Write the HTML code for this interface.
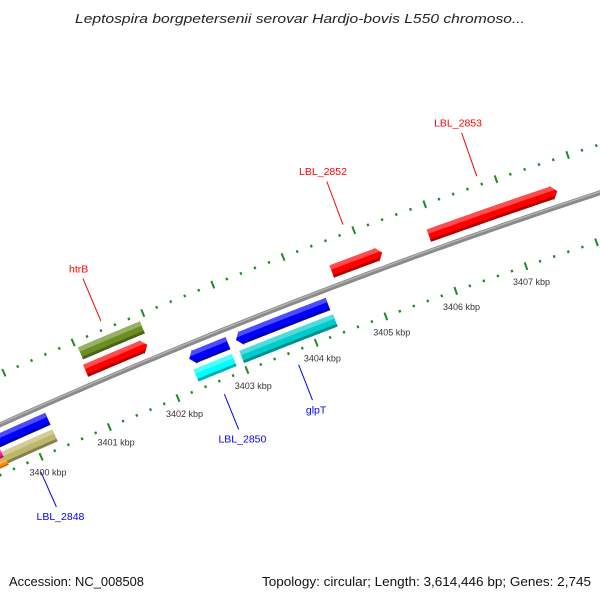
<!DOCTYPE html>
<html><head><meta charset="utf-8"><style>
html,body{margin:0;padding:0;background:#fff;}
svg{display:block;font-family:"Liberation Sans",sans-serif;}
</style></head><body>
<svg id="map" width="600" height="600" viewBox="0 0 600 600">
<defs id="defs"></defs>
<text x="300" y="23" text-anchor="middle" font-size="13" font-style="italic" fill="#222" textLength="450" lengthAdjust="spacingAndGlyphs">Leptospira borgpetersenii serovar Hardjo-bovis L550 chromoso...</text>
<text x="9" y="586" font-size="12.5" fill="#111" textLength="135" lengthAdjust="spacingAndGlyphs">Accession: NC_008508</text>
<text x="591" y="586" text-anchor="end" font-size="12.5" fill="#111" textLength="329" lengthAdjust="spacingAndGlyphs">Topology: circular; Length: 3,614,446 bp; Genes: 2,745</text>
<g id="plot"></g>
</svg>
<script>
// ---- data ----
const tickStart = 3398000;
const tickEnd = 3410000;
const tickStep = 200;
const tickLabels = ["3400 kbp","3401 kbp","3402 kbp","3403 kbp","3404 kbp","3405 kbp","3406 kbp","3407 kbp"];
const tickLabelBp = [3400000,3401000,3402000,3403000,3404000,3405000,3406000,3407000];

const featNames  = ["gene-a","htrB","LBL_2849a","LBL_2849b","LBL_2850","glpT","LBL_2852","LBL_2853","LBL_2848","LBL_2848b","gene-pink","gene-orange"];
const featStart  = [3401004,3401033,3402339,3402339,3403013,3403000,3404534,3405911,3399200,3399400,3399300,3399300];
const featEnd    = [3401894,3401923,3402898,3402891,3404333,3404347,3405251,3407719,3400287,3400287,3399540,3399560];
const featSlot   = ["f1","f2","r1","r2","r1","r2","f1","f1","r1","r2","r3","r4"];
const featDir    = [1,0,-1,0,-1,0,1,1,0,0,0,0];
const featColor  = ["#ff0000","#6b8e23","#0000ff","#00ffff","#0000ff","#00cccc","#ff0000","#ff0000","#0000ff","#bdb76b","#ff1493","#ff8c00"];

const labelText  = ["htrB","LBL_2852","LBL_2853","LBL_2848","LBL_2850","glpT"];
const labelBp    = [3401449,3404892,3406772,3399914,3402597,3403673];
const labelSide  = ["out","out","out","in","in","in"];
const labelColor = ["#ff0000","#ff0000","#ff0000","#0000ff","#0000ff","#0000ff"];

// ---- geometry ----
const cx = 2520.6, cy = 6052;
const R_BACK = 6166, R_IN_TICK = 6120, R_OUT_TICK = 6212;
const slotR = {f1:6181, f2:6199, r1:6152, r2:6134, r3:6139, r4:6129};
const slotW = {f1:13, f2:13, r1:13, r2:13, r3:8, r4:6};
function ang(bp){ return (-113.9 + (bp - 3400000) / 1000 * 0.697) * Math.PI / 180; }
function pt(r, bp){ const a = ang(bp); return [cx + r * Math.cos(a), cy + r * Math.sin(a)]; }
function arc(r, b0, b1, n){ const p=[]; for(let i=0;i<=n;i++){ p.push(pt(r, b0 + (b1-b0)*i/n)); } return p; }
function poly(pts){ return pts.map(p=>p[0].toFixed(2)+','+p[1].toFixed(2)).join(' '); }

const NS = "http://www.w3.org/2000/svg";
const plot = document.getElementById('plot');
const defs = document.getElementById('defs');
function mk(tag, attrs, parent){ const e=document.createElementNS(NS,tag); for(const k in attrs) e.setAttribute(k, attrs[k]); (parent||plot).appendChild(e); return e; }

function shade(hex, f){
  const n = parseInt(hex.slice(1),16); let r=n>>16, g=(n>>8)&255, b=n&255;
  if (f>0){ r+= (255-r)*f; g+=(255-g)*f; b+=(255-b)*f; } else { r*=1+f; g*=1+f; b*=1+f; }
  return 'rgb('+Math.round(r)+','+Math.round(g)+','+Math.round(b)+')';
}

// ---- backbone ----
const bb = mk('polyline', {points: poly(arc(R_BACK, 3398500, 3409500, 80)), fill:'none', stroke:'#8a8a8a', 'stroke-width':5});


const bbh = mk('polyline', {points: poly(arc(R_BACK+1, 3398500, 3409500, 80)), fill:'none', stroke:'#b5b5b5', 'stroke-width':1.3});



// ---- ticks ----
for (let bp = tickStart; bp <= tickEnd; bp += tickStep) {
  const major = (bp % 1000 === 0);
  [R_IN_TICK, R_OUT_TICK].forEach(function(r){
    const h = major ? 4 : 1.3;
    const a = pt(r - h, bp), b = pt(r + h, bp);
    const t = mk('line', {x1:a[0], y1:a[1], x2:b[0], y2:b[1], stroke:'#1f8a1f', 'stroke-width': major ? 2 : 2.2});
    
    
  });
}
tickLabels.forEach(function(s, i){
  const p = pt(R_IN_TICK - 17, tickLabelBp[i]);
  const t = mk('text', {x:p[0], y:p[1]+3, 'text-anchor':'middle', 'font-size':9, fill:'#333'});
  t.textContent = s;
  
  
});

// ---- features ----
const HEAD = 80;
featStart.forEach(function(b0, i){
  const b1 = featEnd[i], r = slotR[featSlot[i]], w = slotW[featSlot[i]], dir = featDir[i], col = featColor[i];
  const ro = r + w/2, ri = r - w/2;
  let pts;
  if (dir === 1) {
    const e = Math.max(b0, b1 - HEAD);
    pts = arc(ro, b0, e, 20).concat([pt(ro+1, e), pt(r, b1), pt(ri-1, e)]).concat(arc(ri, e, b0, 20));
  } else if (dir === -1) {
    const s = Math.min(b1, b0 + HEAD);
    pts = [pt(r, b0), pt(ro+1, s)].concat(arc(ro, s, b1, 20)).concat(arc(ri, b1, s, 20)).concat([pt(ri-1, s)]);
  } else {
    pts = arc(ro, b0, b1, 20).concat(arc(ri, b1, b0, 20));
  }
  const g = mk('g', {});
  
  
  const cp = mk('clipPath', {id:'cp'+i}, defs);
  mk('polygon', {points: poly(pts)}, cp);
  mk('polygon', {points: poly(pts), fill: col}, g);
  const top = arc(ro+2, b0-200, b1+200, 20).concat(arc(r+w*0.15, b1+200, b0-200, 20));
  mk('polygon', {points: poly(top), fill: shade(col, 0.3), 'clip-path':'url(#cp'+i+')'}, g);
  const bot = arc(ri+w*0.22, b0-200, b1+200, 20).concat(arc(ri-2, b1+200, b0-200, 20));
  mk('polygon', {points: poly(bot), fill: shade(col, -0.3), 'clip-path':'url(#cp'+i+')'}, g);
});

// ---- labels ----
labelText.forEach(function(s, i){
  const out = labelSide[i] === 'out';
  const a = pt(out ? 6221 : 6106, labelBp[i]);
  const b = pt(out ? 6267 : 6068, labelBp[i]);
  const l = mk('line', {x1:a[0], y1:a[1], x2:b[0], y2:b[1], stroke:labelColor[i], 'stroke-width':1});
  
  
  const p = pt(out ? 6278 : 6058, labelBp[i]);
  const t = mk('text', {x:p[0], y:p[1]+4, 'text-anchor':'middle', 'font-size':10.5, fill:labelColor[i]});
  t.textContent = s;
  
  
});
</script>
</body></html>
